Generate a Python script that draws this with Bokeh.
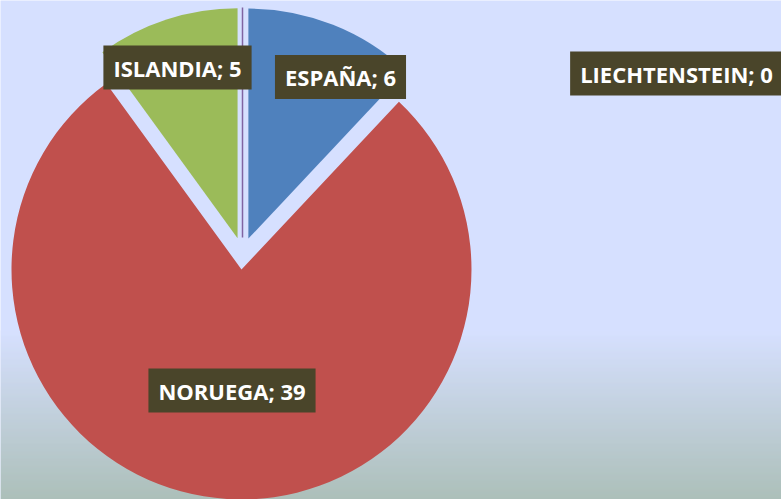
import numpy as np
from bokeh.plotting import figure
from bokeh.models import Range1d, ColumnDataSource
from bokeh.embed import file_html
from bokeh.resources import INLINE
from bokeh.core.properties import value

# ---- data ----
categories = ["ESPAÑA", "NORUEGA", "ISLANDIA", "LIECHTENSTEIN"]
values = [6, 39, 5, 0]
colors = ["#4F81BD", "#C0504D", "#9BBB59", "#8064A2"]

# ---- layout (pixels; y measured upward) ----
W, H = 781, 499
cx, cy = 242, 246
R = 230
EXPLODE = 16
label_x = [340, 231.5, 177, 676]
label_y = [422.5, 109, 432, 426]

total = sum(values)
frac = np.array(values, dtype=float) / total
cum = np.concatenate([[0.0], np.cumsum(frac)])
theta1 = cum[:-1] * 2 * np.pi   # clockwise from 12 o'clock
theta2 = cum[1:] * 2 * np.pi
mid = (theta1 + theta2) / 2
ox = cx + EXPLODE * np.sin(mid)
oy = cy + EXPLODE * np.cos(mid)

p = figure(width=W, height=H, x_range=Range1d(0, W), y_range=Range1d(0, H),
           output_backend="svg", toolbar_location=None,
           x_axis_location=None, y_axis_location=None, min_border=0)
p.grid.visible = False
p.outline_line_color = None
top_col = np.array([214, 224, 255])
bot_col = np.array([158, 180, 162])
p.background_fill_color = "#D6E0FF"
p.border_fill_color = "#D6E0FF"

# background gradient strips (styling)
g0 = 330
rows = np.arange(g0, H)
t = (rows - g0) / (H - 1 - g0)
cols = [tuple(int(round(v)) for v in (top_col + (bot_col - top_col) * tt)) for tt in t]
hexcols = ["#%02x%02x%02x" % c for c in cols]
p.quad(left=0, right=W, bottom=H - rows - 1, top=H - rows, fill_color=hexcols,
       line_color=None)

pos = np.array(values) > 0
src = ColumnDataSource(dict(
    x=ox[pos], y=oy[pos],
    start=(np.pi / 2 - theta1)[pos], end=(np.pi / 2 - theta2)[pos],
    color=[c for c, k in zip(colors, pos) if k],
))
p.wedge(x="x", y="y", radius=R, start_angle="start", end_angle="end",
        direction="clock", fill_color="color", line_color=None, source=src)

zero = ~pos
p.segment(x0=ox[zero], y0=oy[zero],
          x1=ox[zero] + R * np.sin(theta1[zero]), y1=oy[zero] + R * np.cos(theta1[zero]),
          line_color=[c for c, k in zip(colors, zero) if k], line_width=1.5)

lsrc = ColumnDataSource(dict(x=label_x, y=label_y,
                             text=[f"{c}; {v}" for c, v in zip(categories, values)]))
p.text(x="x", y="y", text="text", source=lsrc, text_font=value("Open Sans"),
       text_font_size="22px", text_font_style="bold", text_color="white",
       text_align="center", text_baseline="middle",
       background_fill_color="#4A452A", padding=(10, 7))

open("out.html", "w").write(file_html(p, INLINE))
